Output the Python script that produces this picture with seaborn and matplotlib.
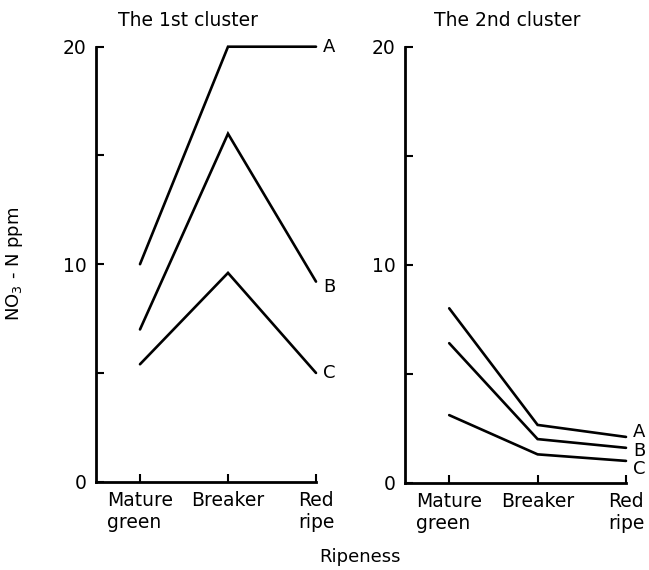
import matplotlib
matplotlib.use("Agg")
import matplotlib.pyplot as plt
from matplotlib.ticker import MultipleLocator, NullFormatter
import pandas as pd
import seaborn as sns

# Ripeness stages (x categories)
stages = ["Mature\ngreen", "Breaker", "Red\nripe"]
series_names = ["A", "B", "C"]

# NO3-N content (ppm) for each series, first cluster
cluster1_A = [10.0, 20.0, 20.0]
cluster1_B = [7.0, 16.0, 9.2]
cluster1_C = [5.4, 9.6, 5.0]

# NO3-N content (ppm) for each series, second cluster
cluster2_A = [8.0, 2.65, 2.1]
cluster2_B = [6.4, 2.0, 1.6]
cluster2_C = [3.1, 1.3, 1.0]

panel_titles = ["The 1st cluster", "The 2nd cluster"]


def long_form(a, b, c):
    rows = []
    for name, vals in zip(series_names, [a, b, c]):
        for stage, v in zip(stages, vals):
            rows.append({"stage": stage, "ppm": v, "series": name})
    return pd.DataFrame(rows)


df1 = long_form(cluster1_A, cluster1_B, cluster1_C)
df2 = long_form(cluster2_A, cluster2_B, cluster2_C)

sns.set_theme(style="ticks")
plt.rcParams["font.family"] = ["DejaVu Sans"]

W, H = 649, 570
fig = plt.figure(figsize=(W / 100, H / 100), dpi=100)

def px_axes(x0, x1, ytop, ybot):
    return fig.add_axes([x0 / W, 1 - ybot / H, (x1 - x0) / W, (ybot - ytop) / H])

ax1 = px_axes(96, 316, 46.7, 481.7)
ax2 = px_axes(405, 626, 46.7, 482.7)

# vertical nudges (points) for end-of-line series labels
label_dy = {
    0: [0, -4, 0],
    1: [3.8, -2.4, -5.8],
}

for i, (ax, df) in enumerate([(ax1, df1), (ax2, df2)]):
    sns.lineplot(data=df, x="stage", y="ppm", hue="series",
                 palette=["black"] * 3, linewidth=1.9, legend=False,
                 ax=ax, sort=False)
    for line in ax.lines:
        line.set_clip_on(False)
        line.set_solid_joinstyle("miter")
    ax.set_xlim(-0.5, 2)
    ax.set_ylim(0, 20)
    ax.yaxis.set_major_locator(MultipleLocator(10))
    ax.yaxis.set_minor_locator(MultipleLocator(5))
    ax.yaxis.set_minor_formatter(NullFormatter())
    ax.set_xticks(range(len(stages)))
    ax.set_xticklabels(stages, multialignment="left")
    ax.tick_params(axis="both", which="both", direction="in", length=6,
                   width=1.5, color="black", labelsize=13.5, labelcolor="black")
    ax.tick_params(axis="y", pad=7)
    ax.tick_params(axis="x", pad=7)
    for side in ["top", "right"]:
        ax.spines[side].set_visible(False)
    for side in ["left", "bottom"]:
        ax.spines[side].set_linewidth(2.0)
        ax.spines[side].set_color("black")
    ax.set_xlabel("")
    ax.set_ylabel("")
    ax.patch.set_alpha(0)

    # series labels at the right end of each line
    for j, name in enumerate(series_names):
        yv = df[(df["series"] == name) & (df["stage"] == stages[-1])]["ppm"].iloc[0]
        ax.annotate(name, xy=(2, yv), xytext=(5, label_dy[i][j]),
                    textcoords="offset points", ha="left", va="center",
                    fontsize=13, color="black", annotation_clip=False)

ax1.set_ylabel("NO$_3$ - N ppm", fontsize=13, color="black")
ax1.yaxis.set_label_coords((25 - 96) / 220, 0.5)

fig.text(188 / W, 1 - 20 / H, panel_titles[0], ha="center", va="center",
         fontsize=13.5, color="black")
fig.text(507 / W, 1 - 21 / H, panel_titles[1], ha="center", va="center",
         fontsize=13.5, color="black")
fig.text(360 / W, 1 - 557 / H, "Ripeness", ha="center", va="center",
         fontsize=13, color="black")

fig.savefig("out.png", dpi=100, facecolor="white")
